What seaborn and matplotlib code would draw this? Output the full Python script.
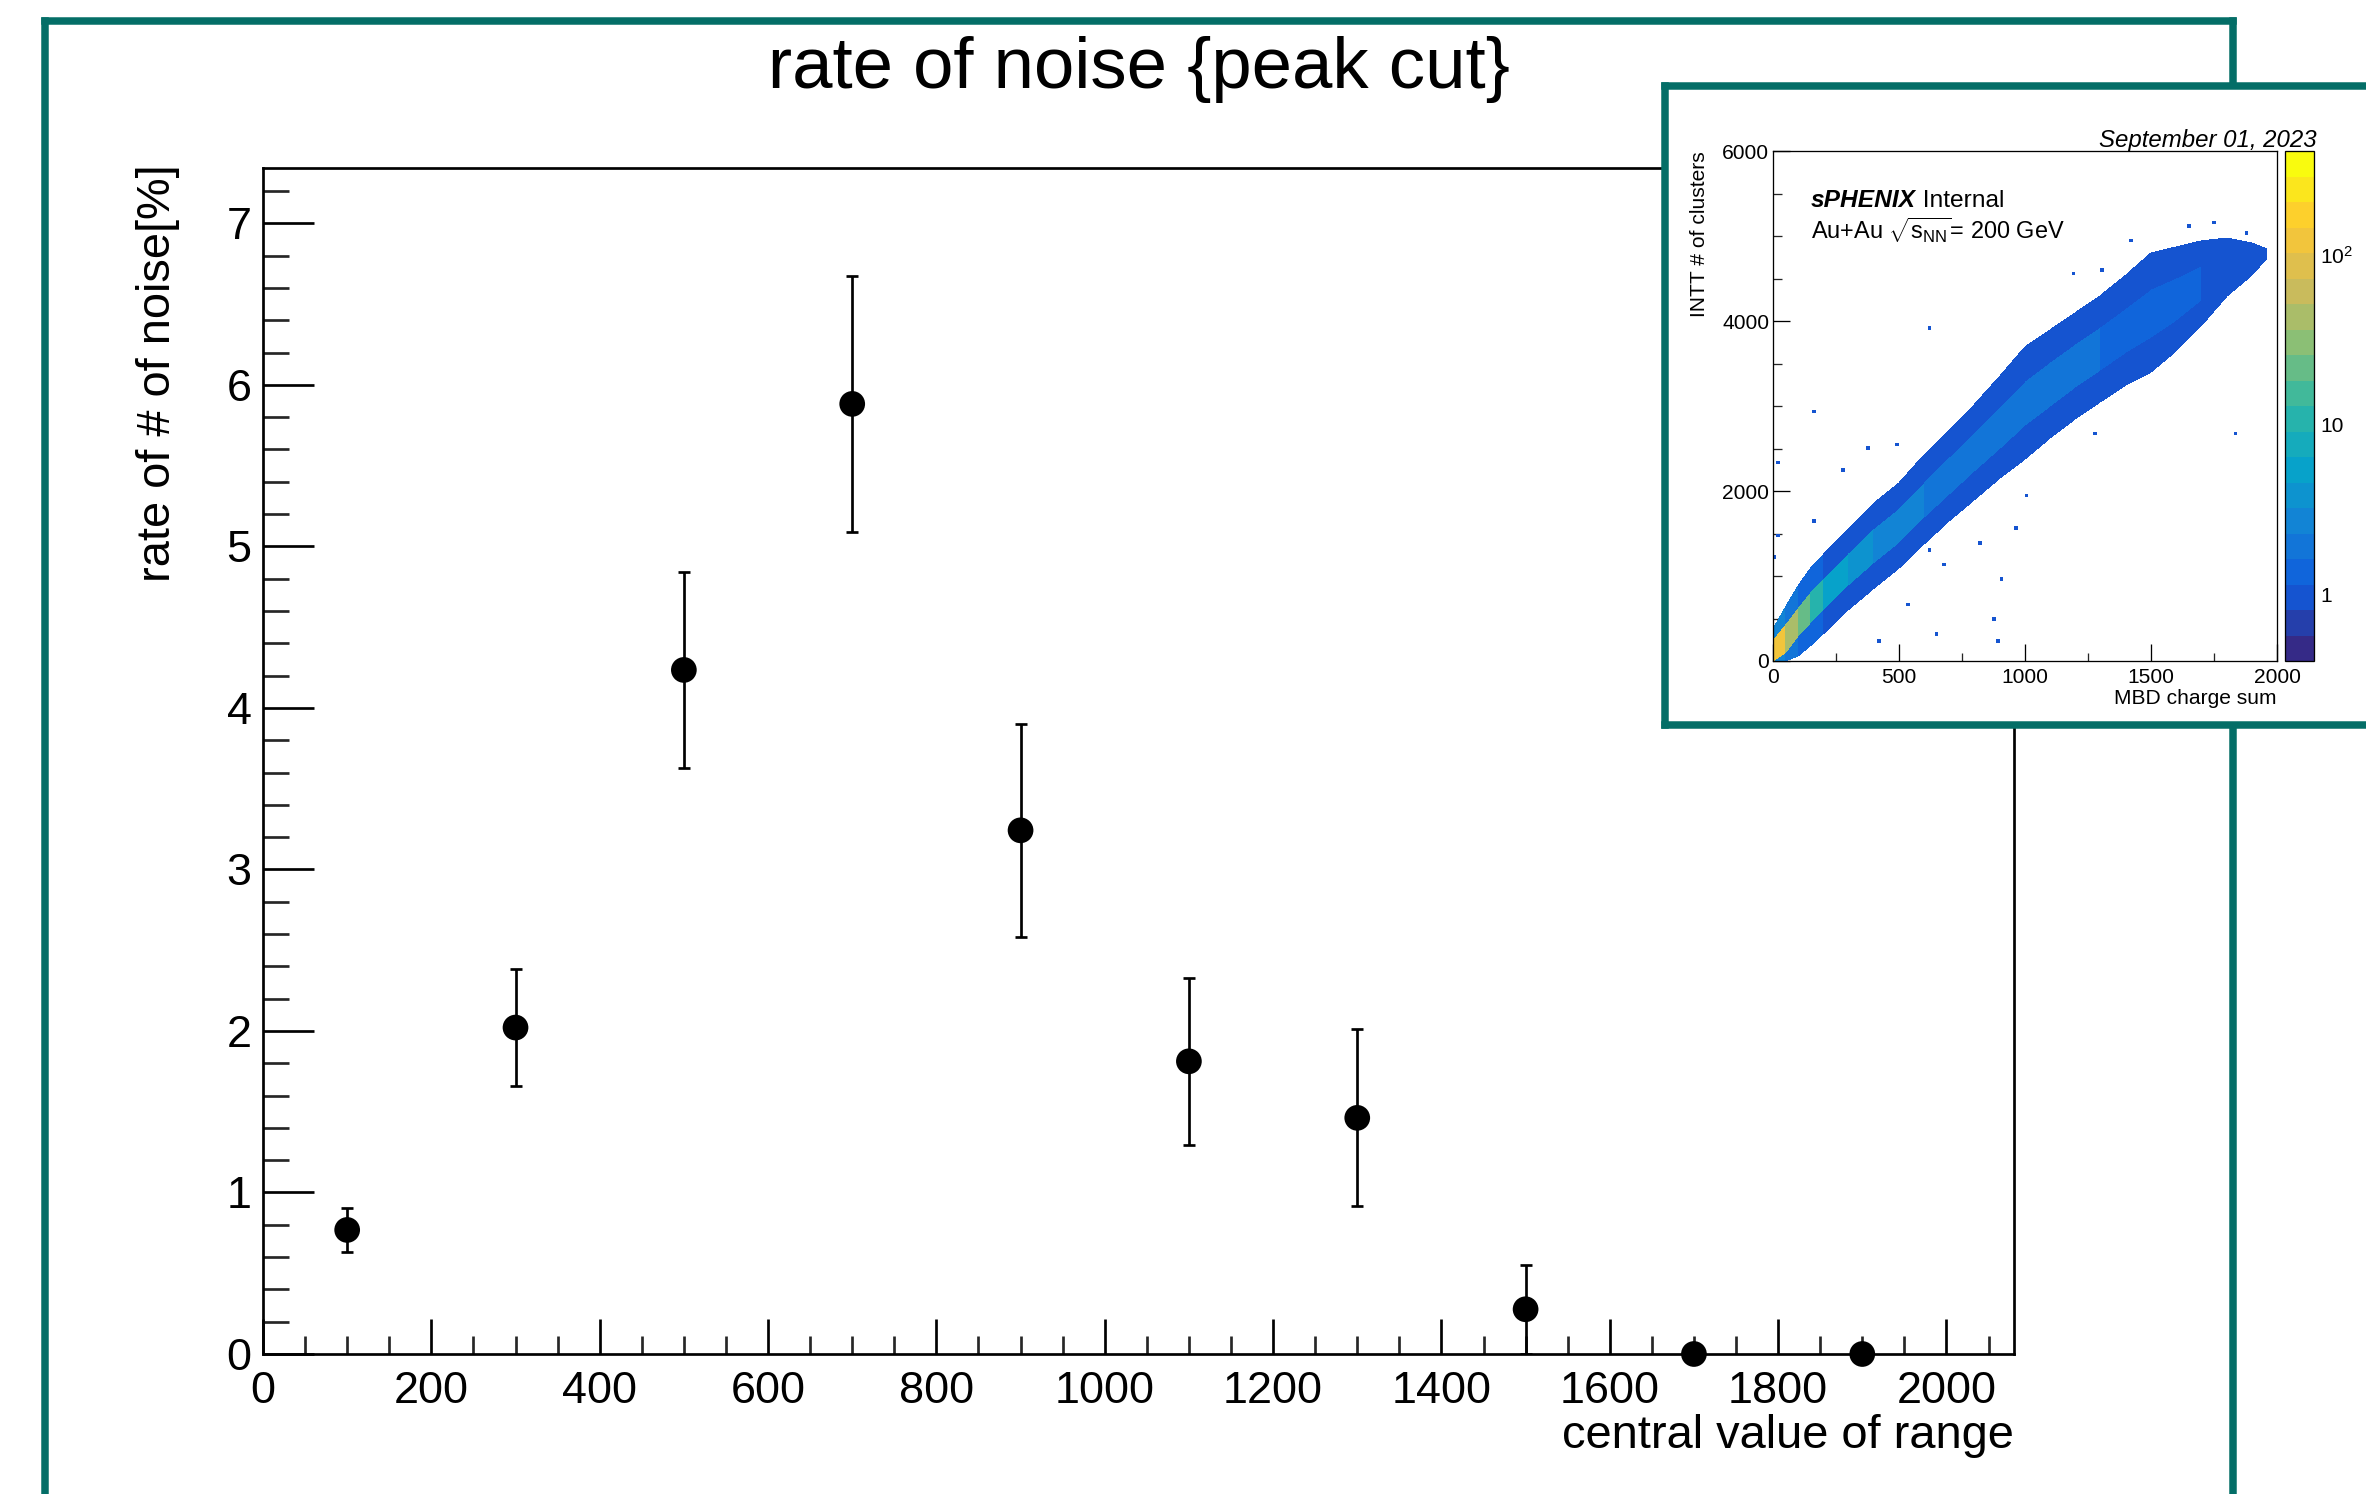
import numpy as np
import pandas as pd
import matplotlib
matplotlib.use("Agg")
import matplotlib.pyplot as plt
import seaborn as sns
from matplotlib.colors import LinearSegmentedColormap, LogNorm
from matplotlib.ticker import MultipleLocator, LogLocator, NullFormatter

# ---------------- data: main graph ----------------
central_value = [100, 300, 500, 700, 900, 1100, 1300, 1500, 1700, 1900]
noise_rate = [0.768, 2.021, 4.235, 5.882, 3.242, 1.812, 1.462, 0.277, 0.0, 0.0]
noise_err = [0.137, 0.364, 0.605, 0.790, 0.660, 0.518, 0.547, 0.277, 0.0, 0.0]
x_ticks_major = [0, 200, 400, 600, 800, 1000, 1200, 1400, 1600, 1800, 2000]

# ---------------- data: inset 2D histogram (band) ----------------
band_x = [0, 50, 100, 150, 200, 300, 400, 500, 600, 700, 800, 900, 1000,
          1100, 1200, 1300, 1400, 1500, 1600, 1700, 1800, 1900, 1960]
band_lo = [0, 0, 60, 180, 320, 600, 850, 1100, 1380, 1650, 1900, 2150, 2380,
           2620, 2850, 3050, 3250, 3400, 3650, 3950, 4300, 4550, 4750]
core_lo = [0, 100, 300, 450, 600, 890, 1150, 1400, 1690, 1970, 2240, 2510, 2780,
           3000, 3230, 3430, 3640, 3820, 4020, 4250, 4500, 4660, 4780]
core_hi = [260, 430, 640, 810, 970, 1270, 1550, 1800, 2110, 2400, 2680, 2990, 3300,
           3520, 3730, 3930, 4160, 4380, 4510, 4650, 4780, 4810, 4820]
band_hi = [380, 620, 880, 1080, 1250, 1560, 1850, 2100, 2420, 2720, 3020, 3350, 3700,
           3900, 4100, 4300, 4550, 4800, 4880, 4950, 4980, 4920, 4850]
core_counts = [120, 50, 25, 12, 6, 4, 3, 3, 2, 2, 2, 2, 2, 2, 2, 1.6, 1.4, 1.3, 1.2, 1.1, 1, 1]
edge_counts = [3, 2, 1.5, 1.2, 1, 1, 1, 1, 1, 1, 1, 1, 1, 1, 1, 1, 1, 1, 1, 1, 1, 1]
outlier_x = [625, 166, 1839, 27, 384, 495, 282, 170, 416, 645, 886, 875, 905, 534,
             964, 1187, 621, 1755, 1646, 1875, 1428, 1307, 21, 5, 1014, 673, 818, 1277]
outlier_y = [3937, 2956, 2682, 2320, 2506, 2530, 2237, 1661, 220, 342, 220, 489, 977, 669,
             1573, 4577, 1319, 5178, 5139, 5056, 4934, 4607, 1465, 1221, 1964, 1148, 1392, 2687]

# ROOT kBird palette stops
bird_stops = [0.0, 0.125, 0.25, 0.375, 0.5, 0.625, 0.75, 0.875, 1.0]
bird_r = [0.2082, 0.0592, 0.0780, 0.0232, 0.1802, 0.5301, 0.8186, 0.9956, 0.9764]
bird_g = [0.1664, 0.3599, 0.5041, 0.6419, 0.7178, 0.7492, 0.7328, 0.7862, 0.9832]
bird_b = [0.5293, 0.8684, 0.8385, 0.7914, 0.6425, 0.4662, 0.3499, 0.1968, 0.0539]

# ---------------- layout helpers ----------------
W, H = 2366, 1494
DPI = 100


def pt(v):
    return v * 72.0 / DPI


def rect(l, t, r, b):
    return [l / W, 1 - b / H, (r - l) / W, (b - t) / H]


sns.set_theme(style="ticks")
plt.rcParams["font.family"] = ["Liberation Sans", "DejaVu Sans"]
plt.rcParams["mathtext.fontset"] = "custom"
plt.rcParams["mathtext.rm"] = "Liberation Sans"
plt.rcParams["mathtext.it"] = "Liberation Sans:italic"
plt.rcParams["mathtext.bf"] = "Liberation Sans:bold"
plt.rcParams["axes.linewidth"] = pt(2.7)

TEAL = "#046e67"

fig = plt.figure(figsize=(W / DPI, H / DPI), dpi=DPI)
fig.patch.set_facecolor("white")

# outer teal frame
frame = fig.add_axes(rect(44.5, 20.5, 2232.7, 1650), zorder=-1)
frame.set_facecolor("white")
frame.set_xticks([])
frame.set_yticks([])
for s in frame.spines.values():
    s.set_color(TEAL)
    s.set_linewidth(pt(7.5))

# ---------------- main graph ----------------
ax = fig.add_axes(rect(263, 167.6, 2013.8, 1354), zorder=1)
df = pd.DataFrame({"center": central_value, "rate": noise_rate, "err": noise_err})
ax.errorbar(df["center"], df["rate"], yerr=df["err"], fmt="none", ecolor="black",
            elinewidth=pt(2.7), capsize=pt(5.9), capthick=pt(2.7), zorder=2)
sns.scatterplot(data=df, x="center", y="rate", ax=ax, color="black", s=pt(25.7) ** 2,
                linewidth=0, edgecolor="none", zorder=3, clip_on=False, legend=False)
ax.set_xlim(0, 2080)
ax.set_ylim(0, 7.345)
ax.set_xticks(x_ticks_major)
ax.xaxis.set_minor_locator(MultipleLocator(50))
ax.yaxis.set_major_locator(MultipleLocator(1))
ax.yaxis.set_minor_locator(MultipleLocator(0.2))
LBL = pt(45)
TTL = pt(47)
ax.tick_params(axis="x", which="major", direction="in", length=pt(35), width=pt(2.7),
               pad=pt(17), labelsize=LBL, top=False, colors="black")
ax.tick_params(axis="x", which="minor", direction="in", length=pt(17.7), width=pt(2.7), top=False)
ax.tick_params(axis="y", which="major", direction="in", length=pt(51), width=pt(2.7),
               pad=pt(11.5), labelsize=LBL, right=False, colors="black")
ax.tick_params(axis="y", which="minor", direction="in", length=pt(25.5), width=pt(2.7), right=False)
for s in ax.spines.values():
    s.set_visible(True)
    s.set_color("black")
    s.set_linewidth(pt(2.7))
ax.set_xlabel("central value of range", fontsize=TTL, loc="right", color="black")
ax.xaxis.set_label_coords(1.0, (1354 - 1414) / 1186.4)
ax.set_ylabel("rate of # of noise[%]", fontsize=TTL, loc="top", color="black")
ax.yaxis.set_label_coords((179.6 - 263) / 1750.8, 1.003)

fig.text(1139 / W, 1 - 88 / H, "rate of noise {peak cut}", ha="center", va="baseline",
         fontsize=pt(72.5), color="black")

# ---------------- inset ----------------
inset_frame = fig.add_axes(rect(1664.5, 86.4, 2600, 724.5), zorder=5)
inset_frame.set_facecolor("white")
inset_frame.set_xticks([])
inset_frame.set_yticks([])
for s in inset_frame.spines.values():
    s.set_color(TEAL)
    s.set_linewidth(pt(7.5))

iax = fig.add_axes(rect(1772.6, 151.4, 2277, 661), zorder=6)
cax = fig.add_axes(rect(2285, 151.4, 2314, 661), zorder=6)

bird = LinearSegmentedColormap.from_list(
    "kBird", list(zip(bird_stops, zip(bird_r, bird_g, bird_b))), N=20)
norm = LogNorm(vmin=0.407, vmax=403)

bx = np.array(band_x, dtype=float)
X = np.vstack([bx, bx, bx, bx])
Y = np.vstack([band_lo, core_lo, core_hi, band_hi]).astype(float)
C = np.vstack([edge_counts, core_counts, edge_counts]).astype(float)
mesh = iax.pcolormesh(X, Y, C, cmap=bird, norm=norm, shading="flat",
                      linewidth=0, antialiased=False)

xe = np.linspace(0, 2000, 141)
ye = np.linspace(0, 6000, 141)
Hout, _, _ = np.histogram2d(outlier_x, outlier_y, bins=[xe, ye])
iax.pcolormesh(xe, ye, np.ma.masked_equal(Hout.T, 0), cmap=bird, norm=norm,
               linewidth=0, antialiased=False)

iax.set_xlim(0, 2000)
iax.set_ylim(0, 6000)
iax.set_facecolor("white")
iax.set_xticks([0, 500, 1000, 1500, 2000])
iax.set_yticks([0, 2000, 4000, 6000])
iax.xaxis.set_minor_locator(MultipleLocator(250))
iax.yaxis.set_minor_locator(MultipleLocator(500))
SM = pt(21)
iax.tick_params(which="major", direction="in", length=pt(17), width=pt(1.3), labelsize=SM,
                top=False, right=False, colors="black")
iax.tick_params(which="minor", direction="in", length=pt(8.5), width=pt(1.3),
                top=False, right=False)
iax.tick_params(axis="x", pad=pt(7))
iax.tick_params(axis="y", pad=pt(3.5))
for s in iax.spines.values():
    s.set_visible(True)
    s.set_color("black")
    s.set_linewidth(pt(1.3))
iax.set_xlabel("MBD charge sum", fontsize=SM, loc="right", color="black")
iax.xaxis.set_label_coords(1.0, (661 - 688.6) / 509.6)
iax.set_ylabel("INTT # of clusters", fontsize=SM, loc="top", color="black")
iax.yaxis.set_label_coords((1708.6 - 1772.6) / 504.4, 1.0)

cb = fig.colorbar(mesh, cax=cax)
cb.outline.set_linewidth(pt(1.3))
cb.outline.set_edgecolor("black")
cb.set_ticks([1, 10, 100], labels=["1", "10", r"$10^{2}$"])
cax.yaxis.set_minor_locator(LogLocator(base=10, subs=np.arange(2, 10)))
cax.yaxis.set_minor_formatter(NullFormatter())
cax.yaxis.set_ticks_position("right")
cax.tick_params(which="major", direction="in", length=pt(16), width=pt(1.3),
                labelsize=SM, pad=pt(6), colors="black")
cax.tick_params(which="minor", direction="in", length=pt(8), width=pt(1.3))

t1 = fig.text(1811 / W, 1 - 206.6 / H, "sPHENIX", ha="left", va="baseline",
              fontsize=pt(24.5), fontweight="bold", fontstyle="italic", color="black", zorder=7)
iax.annotate(" Internal", xy=(1, 0), xycoords=t1, ha="left", va="bottom",
             fontsize=pt(24.5), color="black", annotation_clip=False)
fig.text(1811 / W, 1 - 239 / H, r"Au+Au $\sqrt{\mathrm{s}_{\mathrm{NN}}}$= 200 GeV", ha="left",
         va="baseline", fontsize=pt(23.5), color="black", zorder=7)
fig.text(2316.5 / W, 1 - 147.2 / H, "September 01, 2023", ha="right", va="baseline",
         fontsize=pt(24), fontstyle="italic", color="black", zorder=7)

fig.savefig("out.png", dpi=DPI, facecolor="white")
